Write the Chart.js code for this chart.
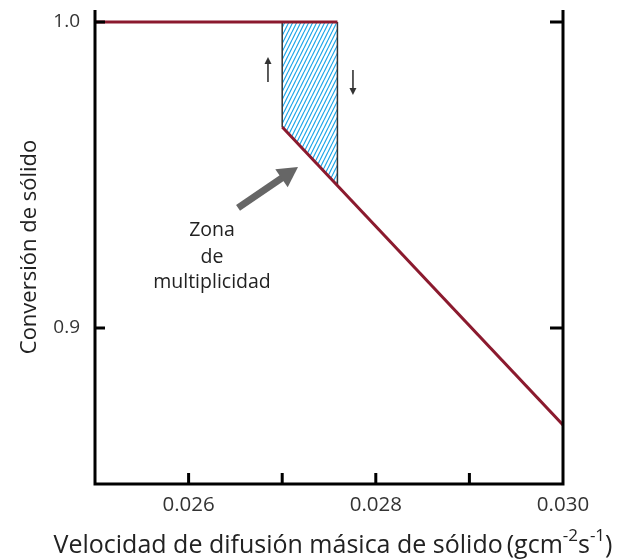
<!DOCTYPE html>
<html>
<head>
<meta charset="utf-8">
<script src="https://cdn.jsdelivr.net/npm/chart.js@4/dist/chart.umd.min.js"></script>
<style>
  html, body { margin: 0; padding: 0; background: #fff; }
  #wrap { width: 631px; height: 560px; }
</style>
</head>
<body>
<div id="wrap"><canvas id="c"></canvas></div>
<script>
// Conversión de sólido frente a la velocidad de difusión másica de sólido

// ejes
const xRange = [0.025, 0.030];
const yRange = [0.84902, 1.00392];
const xTickValues = [0.026, 0.027, 0.028, 0.029, 0.030];
const xTickLabels = ['0.026', '', '0.028', '', '0.030'];
const yTickValues = [0.9, 1.0];
const yTickLabels = ['0.9', '1.0'];

// curva: meseta de conversión completa y rama descendente
const plateauX = [0.025, 0.02759];
const plateauY = [1.0, 1.0];
const slopeX = [0.027, 0.030];
const slopeY = [0.9657, 0.8683];

// zona de multiplicidad: límites superior e inferior
const zoneX = [0.027, 0.02759];
const zoneTopY = [1.0, 1.0];
const zoneBottomY = [0.9657, 0.9467];

// anotaciones (coordenadas de datos)
const upArrowX = 0.026848, upArrowY = [0.9804, 0.98856];
const downArrowX = 0.027756, downArrowY = [0.98431, 0.97614];
const pointerFrom = [0.026528, 0.93922];
const pointerTo = [0.027169, 0.95261];
const zoneLabelX = 0.02625;
const zoneLabelY = [0.9320, 0.9232, 0.9150];
const zoneLabelLines = ['Zona', 'de', 'multiplicidad'];

const yTitle = 'Conversión de sólido';
const xTitleMain = 'Velocidad de difusión másica de sólido';
const xTitleUnit = [['(gcm', false], ['-2', true], ['s', false], ['-1', true], [')', false]];

const FONT = '"Open Sans", "DejaVu Sans", sans-serif';
const RED = '#8b1a2e';

const pts = (xs, ys) => xs.map((x, i) => ({ x, y: ys[i] }));

function hatchPattern() {
  const w = 4, h = 8;
  const c = document.createElement('canvas');
  c.width = w; c.height = h;
  const g = c.getContext('2d');
  g.strokeStyle = '#1ba5e8';
  g.lineWidth = 1.2;
  g.beginPath();
  for (const off of [-w, 0, w]) { g.moveTo(off, h); g.lineTo(off + w, 0); }
  g.stroke();
  return g.createPattern(c, 'repeat');
}

// marco con marcas hacia dentro
const framePlugin = {
  id: 'frame',
  afterDatasetsDraw(chart) {
    const { ctx, chartArea: a, scales: { x, y } } = chart;
    ctx.save();
    ctx.strokeStyle = '#000';
    ctx.lineWidth = 3;
    ctx.lineJoin = 'miter';
    ctx.beginPath();
    ctx.moveTo(a.left, a.top);
    ctx.lineTo(a.left, a.bottom);
    ctx.lineTo(a.right, a.bottom);
    ctx.lineTo(a.right, a.top);
    ctx.stroke();
    ctx.beginPath();
    yTickValues.forEach(v => {
      const py = y.getPixelForValue(v);
      ctx.moveTo(a.left, py); ctx.lineTo(a.left + 10, py);
      ctx.moveTo(a.right, py); ctx.lineTo(a.right - 13, py);
    });
    xTickValues.slice(0, -1).forEach(v => {
      const px = x.getPixelForValue(v);
      ctx.moveTo(px, a.bottom); ctx.lineTo(px, a.bottom - 11);
    });
    ctx.stroke();
    ctx.restore();
  }
};

// flechas, texto de la zona y título del eje x con superíndices
const notesPlugin = {
  id: 'notes',
  afterDatasetsDraw(chart) {
    const { ctx, chartArea: a, scales: { x, y } } = chart;
    ctx.save();

    // flechas finas de histéresis
    const thinArrow = (px, y0, y1) => {
      const dir = Math.sign(y1 - y0);
      ctx.strokeStyle = '#333';
      ctx.fillStyle = '#333';
      ctx.lineWidth = 1.6;
      ctx.beginPath();
      ctx.moveTo(px, y0); ctx.lineTo(px, y1 - dir * 4);
      ctx.stroke();
      ctx.beginPath();
      ctx.moveTo(px, y1);
      ctx.lineTo(px - 3.5, y1 - dir * 7);
      ctx.lineTo(px + 3.5, y1 - dir * 7);
      ctx.closePath();
      ctx.fill();
    };
    thinArrow(x.getPixelForValue(upArrowX), y.getPixelForValue(upArrowY[0]), y.getPixelForValue(upArrowY[1]));
    thinArrow(x.getPixelForValue(downArrowX), y.getPixelForValue(downArrowY[0]), y.getPixelForValue(downArrowY[1]));

    // flecha gruesa gris
    const x0 = x.getPixelForValue(pointerFrom[0]), y0 = y.getPixelForValue(pointerFrom[1]);
    const x1 = x.getPixelForValue(pointerTo[0]), y1 = y.getPixelForValue(pointerTo[1]);
    const len = Math.hypot(x1 - x0, y1 - y0);
    const ux = (x1 - x0) / len, uy = (y1 - y0) / len;
    const nx = -uy, ny = ux;
    const headL = 20, headW = 11;
    const bx = x1 - ux * headL, by = y1 - uy * headL;
    ctx.strokeStyle = '#666';
    ctx.fillStyle = '#666';
    ctx.lineWidth = 7;
    ctx.lineCap = 'butt';
    ctx.beginPath();
    ctx.moveTo(x0, y0); ctx.lineTo(bx + ux * 2, by + uy * 2);
    ctx.stroke();
    ctx.beginPath();
    ctx.moveTo(x1, y1);
    ctx.lineTo(bx + nx * headW, by + ny * headW);
    ctx.lineTo(bx - nx * headW, by - ny * headW);
    ctx.closePath();
    ctx.fill();

    // texto "Zona de multiplicidad"
    ctx.fillStyle = '#222';
    ctx.font = '19.5px ' + FONT;
    ctx.textAlign = 'center';
    ctx.textBaseline = 'middle';
    zoneLabelLines.forEach((t, i) => {
      ctx.fillText(t, x.getPixelForValue(zoneLabelX), y.getPixelForValue(zoneLabelY[i]));
    });

    // título del eje x
    const size = 25, supSize = 17;
    ctx.textAlign = 'left';
    ctx.textBaseline = 'alphabetic';
    ctx.fillStyle = '#222';
    ctx.font = size + 'px ' + FONT;
    const mainW = ctx.measureText(xTitleMain).width;
    const gap = 4;
    let unitW = 0;
    xTitleUnit.forEach(([t, sup]) => {
      ctx.font = (sup ? supSize : size) + 'px ' + FONT;
      unitW += ctx.measureText(t).width;
    });
    const total = mainW + gap + unitW;
    let cx = (a.left + a.right) / 2 + 4 - total / 2;
    const base = 553;
    ctx.font = size + 'px ' + FONT;
    ctx.fillText(xTitleMain, cx, base);
    cx += mainW + gap;
    xTitleUnit.forEach(([t, sup]) => {
      ctx.font = (sup ? supSize : size) + 'px ' + FONT;
      ctx.fillText(t, cx, sup ? base - 12 : base);
      cx += ctx.measureText(t).width;
    });

    ctx.restore();
  }
};

const hatch = hatchPattern();

new Chart(document.getElementById('c'), {
  type: 'line',
  data: {
    datasets: [
      { data: pts(zoneX, zoneTopY), borderWidth: 0, pointRadius: 0, fill: '+1', backgroundColor: hatch, order: 3 },
      { data: pts(zoneX, zoneBottomY), borderWidth: 0, pointRadius: 0, fill: false, order: 3 },
      { data: pts([zoneX[0], zoneX[0]], [zoneTopY[0], zoneBottomY[0]]), borderColor: '#333', borderWidth: 1.5, pointRadius: 0, fill: false, order: 2 },
      { data: pts([zoneX[1], zoneX[1]], [zoneTopY[1], zoneBottomY[1]]), borderColor: '#333', borderWidth: 1.5, pointRadius: 0, fill: false, order: 2 },
      { data: pts(plateauX, plateauY), borderColor: RED, borderWidth: 3, pointRadius: 0, fill: false, order: 0 },
      { data: pts(slopeX, slopeY), borderColor: RED, borderWidth: 3, pointRadius: 0, fill: false, order: 0 }
    ]
  },
  options: {
    responsive: true,
    maintainAspectRatio: false,
    animation: false,
    layout: { padding: { top: 10, right: 68, left: 0, bottom: 0 } },
    plugins: { legend: { display: false }, tooltip: { enabled: false } },
    scales: {
      x: {
        type: 'linear',
        min: xRange[0], max: xRange[1],
        grid: { display: false, drawTicks: false },
        border: { display: false },
        afterBuildTicks: s => { s.ticks = xTickValues.map(v => ({ value: v })); },
        ticks: {
          autoSkip: false, maxRotation: 0, padding: 9,
          color: '#333', font: { family: FONT, size: 20.5 },
          callback: (v, i) => xTickLabels[i]
        },
        afterFit: s => { s.height = 76; s.paddingLeft = 0; s.paddingRight = 0; }
      },
      y: {
        type: 'linear',
        min: yRange[0], max: yRange[1],
        grid: { display: false, drawTicks: false },
        border: { display: false },
        afterBuildTicks: s => { s.ticks = yTickValues.map(v => ({ value: v })); },
        ticks: {
          autoSkip: false, padding: 15,
          color: '#333', font: { family: FONT, size: 19 },
          callback: (v, i) => yTickLabels[i]
        },
        title: {
          display: true, text: yTitle, color: '#222',
          font: { family: FONT, size: 22 },
          padding: { top: 17, bottom: 0 }
        },
        afterFit: s => { s.width = 95; s.paddingTop = 0; s.paddingBottom = 0; }
      }
    }
  },
  plugins: [framePlugin, notesPlugin]
});
</script>
</body>
</html>
